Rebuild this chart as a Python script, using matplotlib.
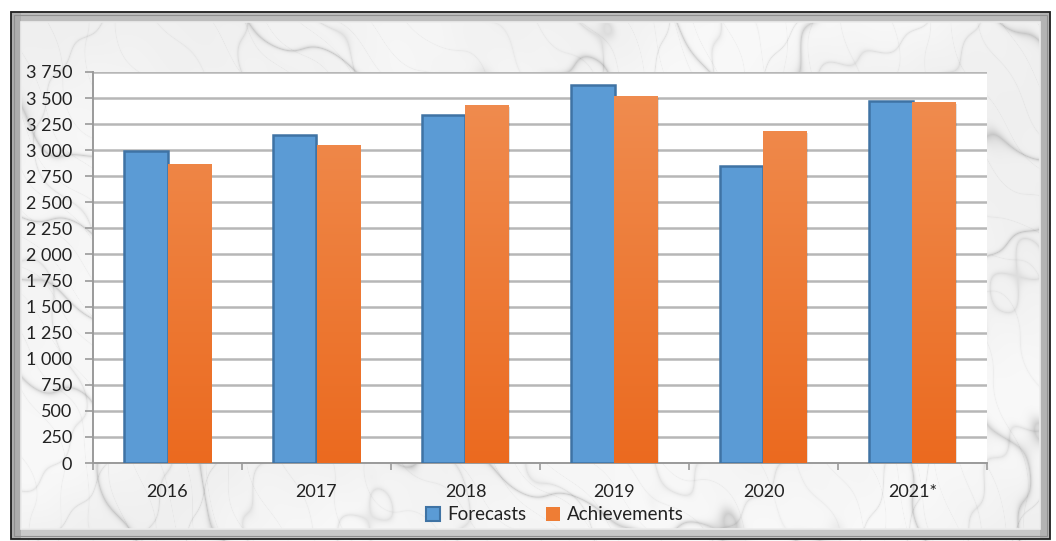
import numpy as np
import matplotlib
matplotlib.use("Agg")
import matplotlib.pyplot as plt
from matplotlib.patches import Rectangle, Patch
from matplotlib.ticker import FuncFormatter, MultipleLocator

plt.rcParams['font.family'] = ['Lato', 'DejaVu Sans']

years = ["2016", "2017", "2018", "2019", "2020", "2021*"]
forecasts = [2990, 3150, 3340, 3630, 2850, 3470]
achievements = [2870, 3050, 3430, 3520, 3180, 3460]

W, H = 1056, 541
fig = plt.figure(figsize=(W / 100, H / 100), dpi=100)

# ---- marble background with bevelled frame ----
bg = fig.add_axes([0, 0, 1, 1])
bg.set_xlim(0, W)
bg.set_ylim(H, 0)
bg.axis("off")

yy, xx = np.mgrid[0:H, 0:W].astype(float)
turb = (np.sin(xx * 0.007 + yy * 0.011) * 1.6
        + np.sin(xx * 0.017 - yy * 0.009 + 1.3) * 0.9
        + np.sin(xx * 0.045 + yy * 0.031 + 0.7) * 0.35
        + np.sin(xx * 0.12 - yy * 0.08 + 2.1) * 0.12)
streak = np.abs(np.sin(xx * 0.012 - yy * 0.020 + turb))
streak2 = np.abs(np.sin(xx * 0.030 + yy * 0.008 + turb * 1.4 + 1.0))
fine = np.abs(np.sin(xx * 0.09 - yy * 0.05 + turb * 2.0))
marble = (0.975
          - 0.16 * (1 - streak) ** 14
          - 0.08 * (1 - streak2) ** 18
          - 0.04 * (1 - fine) ** 20
          - 0.035 * (0.5 + 0.5 * np.sin(xx * 0.006 + yy * 0.013 + turb * 0.6)))
marble = np.clip(marble, 0, 1)
bg.imshow(np.dstack([marble] * 3), extent=(0, W, H, 0), zorder=0, aspect="auto",
          interpolation="bilinear")

# white margin outside the frame
bg.add_patch(Rectangle((0, 0), W, 11, facecolor="white", edgecolor="none", zorder=1))
bg.add_patch(Rectangle((0, 0), 10, H, facecolor="white", edgecolor="none", zorder=1))
bg.add_patch(Rectangle((1051, 0), 10, H, facecolor="white", edgecolor="none", zorder=1))

# bevel bands
band = 10
fx0, fy0, fx1, fy1 = 11, 12, 1050, 539
bg.add_patch(Rectangle((fx0, fy0), fx1 - fx0, band, facecolor="#bdbdbd", edgecolor="none", zorder=2))
bg.add_patch(Rectangle((fx0, fy1 - band), fx1 - fx0, band, facecolor="#c8c8c8", edgecolor="none", zorder=2))
bg.add_patch(Rectangle((fx0, fy0), band, fy1 - fy0, facecolor="#adadad", edgecolor="none", zorder=2))
bg.add_patch(Rectangle((fx1 - band, fy0), band, fy1 - fy0, facecolor="#b3b3b3", edgecolor="none", zorder=2))
bg.add_patch(Rectangle((fx0 + band, fy0 + band), fx1 - fx0 - 2 * band, fy1 - fy0 - 2 * band,
                       facecolor="none", edgecolor="#ececec", lw=1.2, zorder=3))
bg.add_patch(Rectangle((fx0 + 3, fy0 + 3), fx1 - fx0 - 6, fy1 - fy0 - 6,
                       facecolor="none", edgecolor="#909090", lw=0.8, zorder=3))
bg.add_patch(Rectangle((fx0, fy0), fx1 - fx0, fy1 - fy0,
                       facecolor="none", edgecolor="#202020", lw=1.3, zorder=4))

# ---- chart ----
ax = fig.add_axes([93 / W, 1 - 463 / H, (987 - 93) / W, (463 - 72) / H])
ax.set_facecolor("white")
x = np.arange(len(years))
bw = 0.29

ax.yaxis.set_major_locator(MultipleLocator(250))
ax.yaxis.set_major_formatter(FuncFormatter(lambda v, p: f"{int(v):,}".replace(",", " ")))
ax.grid(axis="y", color="#b7b7b7", lw=1.8, zorder=0)
ax.set_axisbelow(True)
for s in ("top", "right"):
    ax.spines[s].set_visible(False)
for s in ("left", "bottom"):
    ax.spines[s].set_color("#9a9a9a")
    ax.spines[s].set_linewidth(1.4)

# soft drop shadows behind the bars
for xi, f, a in zip(x, forecasts, achievements):
    ax.add_patch(Rectangle((xi - bw + 0.012, 0), bw, f - 18, facecolor="black",
                           alpha=0.12, edgecolor="none", zorder=1.5))
    ax.add_patch(Rectangle((xi + 0.012, 0), bw, a - 18, facecolor="black",
                           alpha=0.12, edgecolor="none", zorder=1.5))

ax.bar(x - bw / 2, forecasts, bw, color="#5b9bd5", edgecolor="#3f73a4", lw=1.8, zorder=3)
obars = ax.bar(x + bw / 2, achievements, bw, color="#ee7d35", edgecolor="none", zorder=3)

# orange vertical gradient
grad = np.linspace(0, 1, 256).reshape(-1, 1)
top_c = np.array([0xf0, 0x8e, 0x52]) / 255
bot_c = np.array([0xeb, 0x6a, 0x1f]) / 255
grad_img = (bot_c[None, None, :] * (1 - grad[..., None]) + top_c[None, None, :] * grad[..., None])
for b in obars:
    bx = b.get_x()
    im = ax.imshow(grad_img, extent=(bx, bx + b.get_width(), 0, 3750), origin="lower",
                   aspect="auto", zorder=3.1)
    im.set_clip_path(b)

ax.set_xlim(-0.5, len(years) - 0.5)
ax.set_ylim(0, 3750)

ax.set_xticks(np.arange(len(years) + 1) - 0.5, minor=False)
ax.set_xticklabels([])
ax.set_xticks(x, minor=True)
ax.set_xticklabels(years, minor=True)
ax.tick_params(axis="x", which="major", length=5, width=1.2, color="#9a9a9a")
ax.tick_params(axis="x", which="minor", length=0, pad=15, labelsize=13, labelcolor="#222222")
ax.tick_params(axis="y", length=6, width=1.2, color="#9a9a9a", labelsize=13,
               labelcolor="#222222", pad=9)

handles = [Patch(facecolor="#5b9bd5", edgecolor="#3f73a4", lw=1.5, label="Forecasts"),
           Patch(facecolor="#ee7d35", edgecolor="none", label="Achievements")]
fig.legend(handles=handles, loc="center", bbox_to_anchor=(555 / W, 1 - 515 / H), ncol=2,
           frameon=False, fontsize=13.5, handlelength=0.75, handleheight=0.75,
           handletextpad=0.4, columnspacing=1.0, labelcolor="#222222")

fig.savefig("out.png", dpi=100)
